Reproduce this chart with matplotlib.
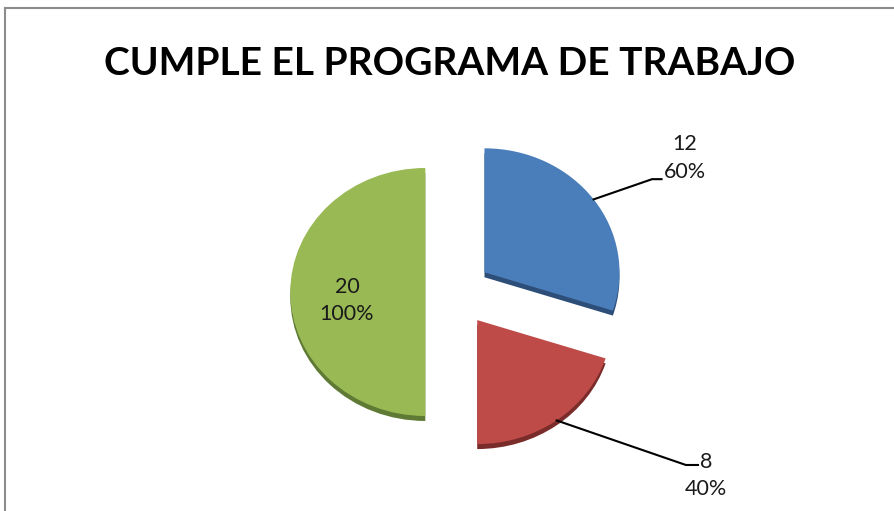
import matplotlib
matplotlib.use('Agg')
import matplotlib.pyplot as plt
from matplotlib.lines import Line2D

title = 'CUMPLE EL PROGRAMA DE TRABAJO'
counts = [12, 8, 20]
percents = ['60%', '40%', '100%']
colors = ['#4a7ebb', '#be4b48', '#98b954']
dark = ['#2d4e78', '#7a2c2b', '#5f7a35']
explode = [0.27, 0.28, 0.22]

W, H = 894, 511
fig = plt.figure(figsize=(W / 100, H / 100), dpi=100)
ax = fig.add_axes([0, 0, 1, 1])

# pixel scale of one data unit (pie is a bit flattened)
sx, sy = 135.0, 124.0
cx, cy = 455.0, 292.0

# side faces (3d depth) drawn first, slightly lower
ax.pie(counts, colors=dark, explode=explode, startangle=90, counterclock=False,
       center=(0, -0.04), wedgeprops=dict(linewidth=0))
wedges, _ = ax.pie(counts, colors=colors, explode=explode, startangle=90,
                   counterclock=False, wedgeprops=dict(linewidth=0))

ax.set_aspect('auto')
ax.set_xlim(-cx / sx, (W - cx) / sx)
ax.set_ylim((cy - H) / sy, cy / sy)
ax.axis('off')

fnt = dict(family='Lato', size=15.5, color='#1a1a1a', ha='center', va='center',
           linespacing=1.45)

# blue label with leader
ax.plot([1.027, 1.46, 1.53], [0.747, 0.91, 0.91], color='black', lw=1.5)
ax.text(1.70, 1.08, '%d\n%s' % (counts[0], percents[0]), **fnt)

# red label with leader
ax.plot([0.753, 1.71, 1.80], [-1.036, -1.395, -1.395], color='black', lw=1.5)
ax.text(1.86, -1.48, '%d\n%s' % (counts[1], percents[1]), **fnt)

# green label inside
ax.text(-0.80, -0.07, '%d\n%s' % (counts[2], percents[2]), **fnt)

fig.text(450 / W, 1 - 63 / H, title, family='Lato', weight='bold', size=28,
         ha='center', va='center', color='black')

# chart frame (only top and left are visible)
fig.add_artist(Line2D([5 / W, 5 / W], [0, 1 - 8 / H], transform=fig.transFigure,
                      color='#8c8c8c', lw=1.5))
fig.add_artist(Line2D([5 / W, 1], [1 - 8 / H, 1 - 8 / H], transform=fig.transFigure,
                      color='#8c8c8c', lw=1.5))

fig.savefig('out.png', dpi=100)
